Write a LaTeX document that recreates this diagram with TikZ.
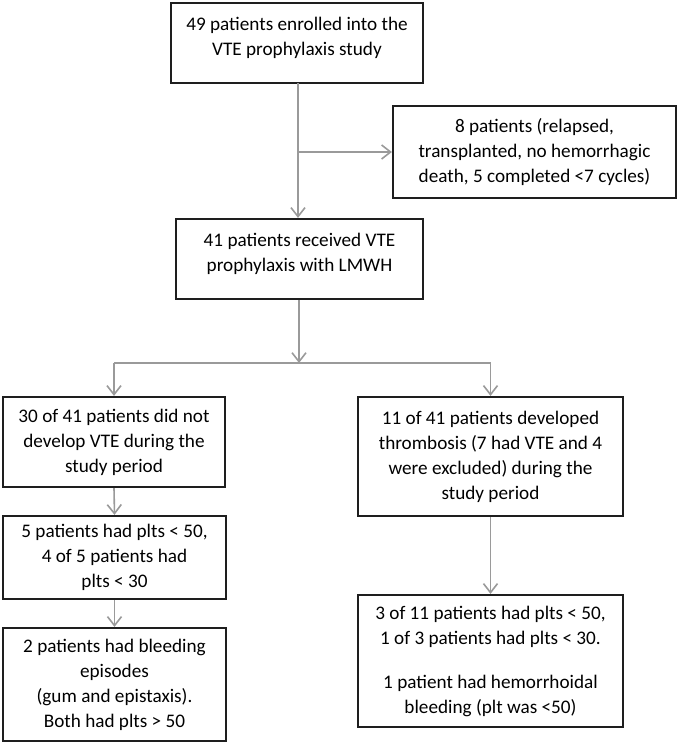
\documentclass[tikz,border=0pt]{standalone}
\usepackage{fontspec}
\setmainfont{Carlito}
\usetikzlibrary{arrows.meta}
\definecolor{arrgray}{HTML}{9A9A9A}
\definecolor{boxline}{HTML}{1E1E1E}
\begin{document}
\begin{tikzpicture}[x=1pt,y=-1pt,
  box/.style={draw=boxline, line width=2.2pt, rectangle, inner sep=0pt, align=center,
              font=\fontsize{19.2}{25}\selectfont},
  arr/.style={draw=arrgray, line width=1.6pt, -{Straight Barb[length=9pt,width=14pt,line width=1.6pt]}},
  ln/.style={draw=arrgray, line width=1.6pt}]
\useasboundingbox (0,0) rectangle (678,743);

\node[box, minimum width=252pt, minimum height=80pt] (b1) at (297,43)
  {49 patients enrolled into the\\VTE prophylaxis study\\[-12pt]\mbox{}};
\node[box, minimum width=283pt, minimum height=92pt] (b2) at (534.5,152)
  {8 patients (relapsed,\\transplanted, no hemorrhagic\\death, 5 completed <7 cycles)};
\node[box, minimum width=247pt, minimum height=80pt] (b3) at (299.5,259)
  {41 patients received VTE\\prophylaxis with LMWH\\[-12pt]\mbox{}};
\node[box, minimum width=222pt, minimum height=90pt] (l1) at (114,442)
  {30 of 41 patients did not\\develop VTE during the\\study period};
\node[box, minimum width=265pt, minimum height=119pt] (r1) at (490.5,456.5)
  {11 of 41 patients developed\\thrombosis (7 had VTE and 4\\were excluded) during the\\study period};
\node[box, minimum width=223pt, minimum height=83pt] (l2) at (114.5,557.5)
  {5 patients had plts < 50,\\4 of 5 patients had\\plts < 30};
\node[box, minimum width=223pt, minimum height=113pt] (l3) at (114.5,684.5)
  {2 patients had bleeding\\episodes\\(gum and epistaxis).\\Both had plts > 50};
\node[box, minimum width=265pt, minimum height=132pt] (r2) at (490.5,661)
  {3 of 11 patients had plts < 50,\\1 of 3 patients had plts < 30.\\[19pt]1 patient had hemorrhoidal\\bleeding (plt was <50)};

% top trunk and side branch
\coordinate (t1) at (298,83);
\draw[arr] (t1) -- (t1 |- b3.north);
\draw[arr] (t1 |- b2.west) -- (b2.west);

% split
\coordinate (s) at (299,363);
\coordinate (sl) at (l1.north |- s);
\coordinate (sr) at (r1.north |- s);
\draw[arr] (b3.south -| s) -- (s);
\draw[ln] (sl) -- (sr);
\draw[arr] (sl) -- (l1.north);
\draw[arr] (sr) -- (r1.north);

% chains
\draw[arr] (l1.south) -- (l2.north);
\draw[arr] (l2.south) -- (l3.north);
\draw[arr] (r1.south) -- (r2.north);
\end{tikzpicture}
\end{document}
